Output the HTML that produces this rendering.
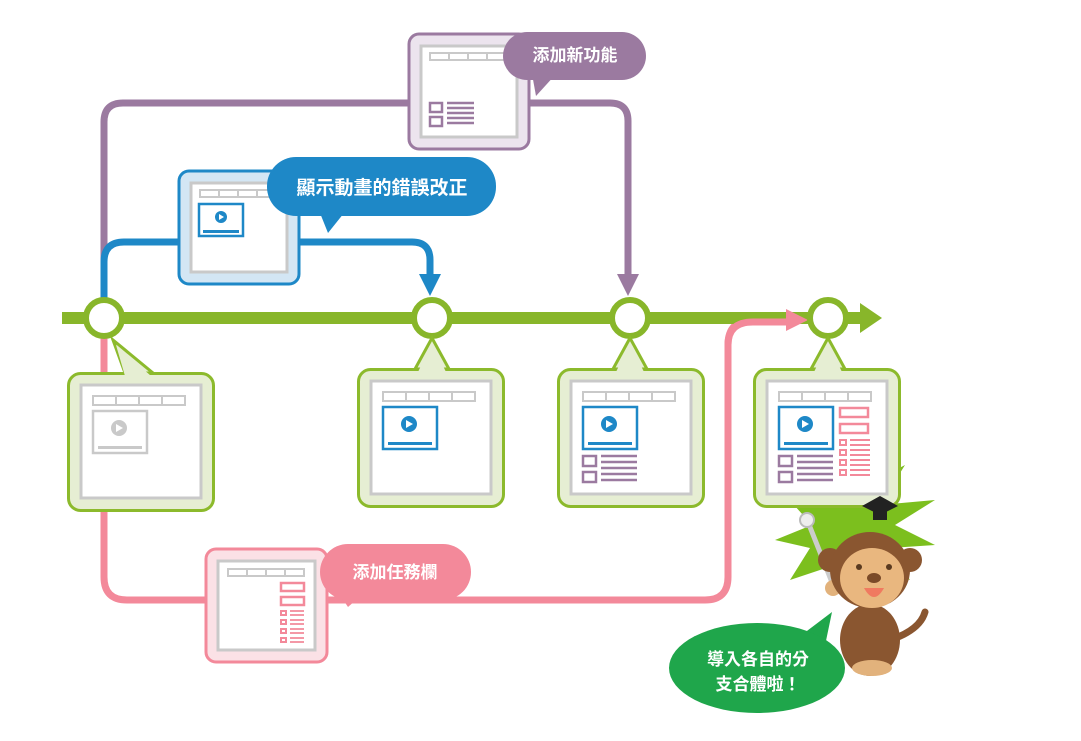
<!DOCTYPE html>
<html><head><meta charset="utf-8"><style>
html,body{margin:0;padding:0;background:#fff;}
svg{display:block;}
text{font-family:"Liberation Sans","Noto Sans CJK TC",sans-serif;font-weight:bold;fill:#fff;text-anchor:middle;}
</style></head><body>
<svg width="1081" height="741" viewBox="0 0 1081 741" xmlns="http://www.w3.org/2000/svg">
<!-- monkey (behind boxes) -->
<polygon points="850,455 858,490 905,465 880,505 935,500 895,525 935,545 890,548 910,580 865,565 850,595 835,565 790,580 810,548 775,540 812,525 785,495 830,505" fill="#7cbf1e"/>
<path d="M890,640 Q920,630 925,612" fill="none" stroke="#8a5630" stroke-width="7" stroke-linecap="round"/>
<ellipse cx="870" cy="640" rx="30" ry="36" fill="#8a5630"/>
<ellipse cx="872" cy="668" rx="20" ry="8" fill="#e2b27c"/>
<line x1="808" y1="522" x2="835" y2="590" stroke="#ccc" stroke-width="5" stroke-linecap="round"/>
<circle cx="807" cy="520" r="7" fill="#eee" stroke="#bbb" stroke-width="2"/>
<circle cx="833" cy="588" r="8" fill="#e2b27c"/>
<circle cx="830" cy="560" r="12" fill="#8a5630"/>
<circle cx="910" cy="560" r="12" fill="#8a5630"/>
<ellipse cx="870" cy="570" rx="40" ry="38" fill="#8a5630"/>
<ellipse cx="872" cy="578" rx="32" ry="30" fill="#e9b77f"/>
<circle cx="859" cy="567" r="3" fill="#5a3a20"/><circle cx="889" cy="567" r="3" fill="#5a3a20"/>
<ellipse cx="874" cy="578" rx="7" ry="5" fill="#7a4a28"/>
<path d="M864,588 Q874,606 884,588 Z" fill="#f07a60"/>

<!-- connectors -->
<path d="M104,300 V122 Q104,103 123,103 H610 Q628,103 628,121 V276" fill="none" stroke="#9b7aa0" stroke-width="7"/>
<polygon points="617,274 639,274 628,296" fill="#9b7aa0"/>
<path d="M104,300 V262 Q104,242 124,242 H412 Q430,242 430,260 V276" fill="none" stroke="#1e88c7" stroke-width="7"/>
<polygon points="419,274 441,274 430,296" fill="#1e88c7"/>
<path d="M104,335 V577 Q104,600 127,600 H705 Q728,600 728,577 V345 Q728,320 753,320 H790" fill="none" stroke="#f3899a" stroke-width="7"/>
<line x1="62" y1="318" x2="865" y2="318" stroke="#88b62a" stroke-width="12"/>
<polygon points="860,303 882,318 860,333" fill="#88b62a"/>
<path d="M728,345 Q728,322 753,322 H790" fill="none" stroke="#f3899a" stroke-width="7"/>
<polygon points="786,309 808,320 786,331" fill="#f3899a"/>
<g fill="#fff" stroke="#88b62a" stroke-width="6">
<circle cx="104" cy="318" r="18"/><circle cx="432" cy="318" r="18"/><circle cx="630" cy="318" r="18"/><circle cx="828" cy="318" r="18"/>
</g>

<!-- green boxes -->
<g transform="translate(67,372)">
<polygon points="46,-32 58,1 86,1" fill="#e6eed3" stroke="#8cba2c" stroke-width="3"/>
<rect x="1.5" y="1.5" width="145" height="137" rx="12" fill="#e6eed3" stroke="#8cba2c" stroke-width="3"/>
<polygon points="49,-27 58,4 84,4" fill="#e6eed3"/>
<rect x="14" y="13" width="120" height="113" fill="#fff" stroke="#c9c9c9" stroke-width="3"/>
<rect x="26" y="24" width="92" height="9" fill="#fff" stroke="#c9c9c9" stroke-width="2"/>
<path d="M49,24V33M72,24V33M95,24V33" stroke="#c9c9c9" stroke-width="2"/>
<rect x="26" y="39" width="54" height="42" fill="#fff" stroke="#c9c9c9" stroke-width="2.5"/>
<circle cx="52" cy="56" r="8" fill="#c9c9c9"/><polygon points="49,52 49,60 56,56" fill="#fff"/>
<rect x="31" y="74" width="44" height="3" fill="#c9c9c9"/>
</g>
<g transform="translate(357,368)">
<polygon points="75,-30 58,1 92,1" fill="#e6eed3" stroke="#8cba2c" stroke-width="3"/>
<rect x="1.5" y="1.5" width="145" height="137" rx="12" fill="#e6eed3" stroke="#8cba2c" stroke-width="3"/>
<polygon points="75,-25 61,4 89,4" fill="#e6eed3"/>
<rect x="14" y="13" width="120" height="113" fill="#fff" stroke="#c9c9c9" stroke-width="3"/>
<rect x="26" y="24" width="92" height="9" fill="#fff" stroke="#c9c9c9" stroke-width="2"/>
<path d="M49,24V33M72,24V33M95,24V33" stroke="#c9c9c9" stroke-width="2"/>
<rect x="26" y="39" width="54" height="42" fill="#fff" stroke="#1e88c7" stroke-width="2.5"/>
<circle cx="52" cy="56" r="8" fill="#1e88c7"/><polygon points="49,52 49,60 56,56" fill="#fff"/>
<rect x="31" y="74" width="44" height="3" fill="#1e88c7"/>
</g>
<g transform="translate(557,368)">
<polygon points="73,-30 56,1 90,1" fill="#e6eed3" stroke="#8cba2c" stroke-width="3"/>
<rect x="1.5" y="1.5" width="145" height="137" rx="12" fill="#e6eed3" stroke="#8cba2c" stroke-width="3"/>
<polygon points="73,-25 59,4 87,4" fill="#e6eed3"/>
<rect x="14" y="13" width="120" height="113" fill="#fff" stroke="#c9c9c9" stroke-width="3"/>
<rect x="26" y="24" width="92" height="9" fill="#fff" stroke="#c9c9c9" stroke-width="2"/>
<path d="M49,24V33M72,24V33M95,24V33" stroke="#c9c9c9" stroke-width="2"/>
<rect x="26" y="39" width="54" height="42" fill="#fff" stroke="#1e88c7" stroke-width="2.5"/>
<circle cx="52" cy="56" r="8" fill="#1e88c7"/><polygon points="49,52 49,60 56,56" fill="#fff"/>
<rect x="31" y="74" width="44" height="3" fill="#1e88c7"/>
<rect x="26" y="88" width="13" height="10" fill="none" stroke="#9b7aa0" stroke-width="2.5"/>
<rect x="26" y="104" width="13" height="10" fill="none" stroke="#9b7aa0" stroke-width="2.5"/>
<path d="M44,88H80M44,94H80M44,100H80M44,106H80M44,112H80" stroke="#9b7aa0" stroke-width="2.5"/>
</g>
<g transform="translate(753,368)">
<polygon points="75,-30 58,1 92,1" fill="#e6eed3" stroke="#8cba2c" stroke-width="3"/>
<rect x="1.5" y="1.5" width="145" height="137" rx="12" fill="#e6eed3" stroke="#8cba2c" stroke-width="3"/>
<polygon points="75,-25 61,4 89,4" fill="#e6eed3"/>
<rect x="14" y="13" width="120" height="113" fill="#fff" stroke="#c9c9c9" stroke-width="3"/>
<rect x="26" y="24" width="92" height="9" fill="#fff" stroke="#c9c9c9" stroke-width="2"/>
<path d="M49,24V33M72,24V33M95,24V33" stroke="#c9c9c9" stroke-width="2"/>
<rect x="26" y="39" width="54" height="42" fill="#fff" stroke="#1e88c7" stroke-width="2.5"/>
<circle cx="52" cy="56" r="8" fill="#1e88c7"/><polygon points="49,52 49,60 56,56" fill="#fff"/>
<rect x="31" y="74" width="44" height="3" fill="#1e88c7"/>
<rect x="26" y="88" width="13" height="10" fill="none" stroke="#9b7aa0" stroke-width="2.5"/>
<rect x="26" y="104" width="13" height="10" fill="none" stroke="#9b7aa0" stroke-width="2.5"/>
<path d="M44,88H80M44,94H80M44,100H80M44,106H80M44,112H80" stroke="#9b7aa0" stroke-width="2.5"/>
<rect x="87" y="40" width="28" height="9" fill="none" stroke="#f3899a" stroke-width="2.5"/>
<rect x="87" y="56" width="28" height="9" fill="none" stroke="#f3899a" stroke-width="2.5"/>
<g fill="none" stroke="#f3899a" stroke-width="2"><rect x="87" y="72" width="6" height="5"/><rect x="87" y="82" width="6" height="5"/><rect x="87" y="92" width="6" height="5"/><rect x="87" y="102" width="6" height="5"/></g>
<path d="M97,72H117M97,77H117M97,82H117M97,87H117M97,92H117M97,97H117M97,102H117M97,107H117" stroke="#f3899a" stroke-width="2"/>
</g>

<!-- hat over box -->
<polygon points="862,506 880,496 898,506 880,515" fill="#222"/>
<rect x="873" y="508" width="14" height="12" fill="#222"/>

<!-- purple box -->
<rect x="409" y="34" width="120" height="115" rx="10" fill="#ece4ee" stroke="#9b7aa0" stroke-width="3"/>
<rect x="421" y="46" width="96" height="91" fill="#fff" stroke="#c9c9c9" stroke-width="3"/>
<rect x="430" y="53" width="76" height="7" fill="#fff" stroke="#c9c9c9" stroke-width="2"/>
<path d="M449,53V60M468,53V60M487,53V60" stroke="#c9c9c9" stroke-width="2"/>
<rect x="430" y="103" width="12" height="9" fill="none" stroke="#9b7aa0" stroke-width="2.5"/>
<rect x="430" y="117" width="12" height="9" fill="none" stroke="#9b7aa0" stroke-width="2.5"/>
<path d="M447,103H474M447,108H474M447,113H474M447,118H474M447,123H474" stroke="#9b7aa0" stroke-width="2.5"/>
<rect x="503" y="32" width="143" height="48" rx="24" fill="#9b7aa0"/>
<polygon points="532,74 556,74 536,96" fill="#9b7aa0"/>
<text x="575" y="61" font-size="17">添加新功能</text>

<!-- blue box -->
<rect x="179" y="171" width="120" height="113" rx="10" fill="#d3e6f4" stroke="#1e88c7" stroke-width="3"/>
<rect x="191" y="183" width="96" height="89" fill="#fff" stroke="#c9c9c9" stroke-width="3"/>
<rect x="200" y="190" width="76" height="7" fill="#fff" stroke="#c9c9c9" stroke-width="2"/>
<path d="M219,190V197M238,190V197M257,190V197" stroke="#c9c9c9" stroke-width="2"/>
<rect x="199" y="204" width="44" height="32" fill="#fff" stroke="#1e88c7" stroke-width="2.5"/>
<circle cx="221" cy="217" r="6" fill="#1e88c7"/><polygon points="219,214 219,220 224,217" fill="#fff"/>
<rect x="203" y="230" width="36" height="3" fill="#1e88c7"/>
<rect x="267" y="157" width="229" height="59" rx="29" fill="#1e88c7"/>
<polygon points="318,208 348,208 328,233" fill="#1e88c7"/>
<text x="382" y="194" font-size="19">顯示動畫的錯誤改正</text>

<!-- pink box -->
<rect x="206" y="549" width="121" height="113" rx="10" fill="#fbe1e6" stroke="#f3899a" stroke-width="3"/>
<rect x="218" y="561" width="97" height="89" fill="#fff" stroke="#c9c9c9" stroke-width="3"/>
<rect x="228" y="569" width="76" height="7" fill="#fff" stroke="#c9c9c9" stroke-width="2"/>
<path d="M247,569V576M266,569V576M285,569V576" stroke="#c9c9c9" stroke-width="2"/>
<rect x="281" y="583" width="23" height="8" fill="none" stroke="#f3899a" stroke-width="2.5"/>
<rect x="281" y="597" width="23" height="8" fill="none" stroke="#f3899a" stroke-width="2.5"/>
<g fill="none" stroke="#f3899a" stroke-width="2"><rect x="281" y="611" width="5" height="4"/><rect x="281" y="620" width="5" height="4"/><rect x="281" y="629" width="5" height="4"/><rect x="281" y="638" width="5" height="4"/></g>
<path d="M290,611H304M290,615H304M290,620H304M290,624H304M290,629H304M290,633H304M290,638H304M290,642H304" stroke="#f3899a" stroke-width="1.8"/>
<rect x="320" y="544" width="151" height="56" rx="28" fill="#f3899a"/>
<polygon points="338,592 365,592 348,607" fill="#f3899a"/>
<text x="395" y="578" font-size="17">添加任務欄</text>

<!-- green bubble -->
<polygon points="795,640 832,612 822,660" fill="#1fa64b"/>
<ellipse cx="757" cy="668" rx="88" ry="45" fill="#1fa64b"/>
<text x="758" y="665" font-size="17">導入各自的分</text>
<text x="758" y="690" font-size="17">支合體啦！</text>
</svg>
</body></html>
